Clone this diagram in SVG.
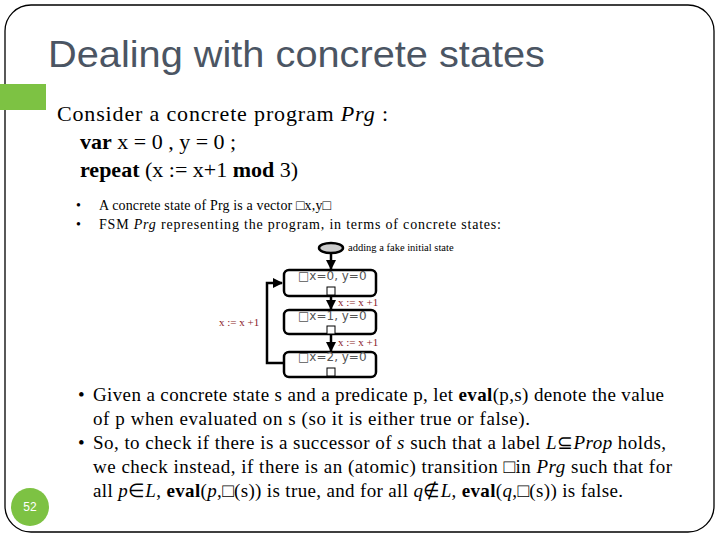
<svg xmlns="http://www.w3.org/2000/svg" width="720" height="540" viewBox="0 0 720 540">
<defs>
<style>
.title{font-family:"Liberation Sans",Arial,sans-serif;font-size:36px;fill:#4b5563}
.serif{font-family:"Liberation Serif","Times New Roman",serif;fill:#000}
.big{font-size:22px}
.mid{font-size:19px}
.small{font-size:14px}
.tiny{font-size:10.5px}
.node rect.box{fill:#fff;stroke:#000;stroke-width:2.5}
.nlabel{font-family:"DejaVu Sans",sans-serif;font-size:12px;fill:#555}
.edge{fill:none;stroke:#000;stroke-width:2.5}
.elabel{font-family:"Liberation Serif",serif;font-size:11px;fill:#8b1a2a}
</style>
<marker id="arr" viewBox="0 0 10 10" refX="9" refY="5" markerWidth="4" markerHeight="4" orient="auto">
<path d="M0,0 L10,5 L0,10 z" fill="#000"/>
</marker>
</defs>
<rect width="720" height="540" fill="#fff"/>
<rect x="5" y="5" width="709" height="527" rx="26" ry="26" fill="none" stroke="#000" stroke-width="1.3"/>
<rect x="0" y="84" width="46" height="26" fill="#7dc243"/>
<text class="title" x="48" y="67" textLength="497" lengthAdjust="spacingAndGlyphs">Dealing with concrete states</text>

<text class="serif big" x="57" y="121" textLength="331" lengthAdjust="spacing">Consider a concrete program <tspan font-style="italic">Prg</tspan> :</text>
<text class="serif big" x="80" y="149"><tspan font-weight="bold">var</tspan> x = 0 , y = 0 ;</text>
<text class="serif big" x="80" y="177"><tspan font-weight="bold">repeat</tspan> (x := x+1 <tspan font-weight="bold">mod</tspan> 3)</text>

<text class="serif small" x="76" y="210">•</text>
<text class="serif small" x="99" y="210" textLength="232" lengthAdjust="spacing">A concrete state of Prg is a vector □x,y□</text>
<text class="serif small" x="76" y="229">•</text>
<text class="serif small" x="99" y="229" textLength="402" lengthAdjust="spacing">FSM <tspan font-style="italic">Prg</tspan> representing the program, in terms of concrete states:</text>

<g id="init">
<ellipse cx="331" cy="248" rx="12" ry="5" fill="#ccc" stroke="#000" stroke-width="2.5"/>
<text class="serif tiny" x="348" y="251">adding a fake initial state</text>
</g>

<g id="connectors">
<line class="edge" x1="331" y1="253" x2="331" y2="269" marker-end="url(#arr)"/>
<line class="edge" x1="331" y1="296" x2="331" y2="309" marker-end="url(#arr)"/>
<line class="edge" x1="331" y1="334" x2="331" y2="351" marker-end="url(#arr)"/>
<polyline class="edge" points="283,363 267,363 267,283 282,283" marker-end="url(#arr)"/>
<text class="elabel" x="338" y="306">x := x +1</text>
<text class="elabel" x="338" y="346">x := x +1</text>
<text class="elabel" x="219" y="326">x := x +1</text>
</g>

<g id="s0" class="node">
<rect class="box" x="284" y="270" width="92" height="26" rx="5"/>
<text class="nlabel" x="298" y="280">□x=0, y=0</text>
<rect x="327" y="287" width="8" height="8" fill="#fff" stroke="#000" stroke-width="1"/>
</g>
<g id="s1" class="node">
<rect class="box" x="284" y="310" width="92" height="24" rx="5"/>
<text class="nlabel" x="298" y="320">□x=1, y=0</text>
<rect x="327" y="326" width="8" height="8" fill="#fff" stroke="#000" stroke-width="1"/>
</g>
<g id="s2" class="node">
<rect class="box" x="284" y="352" width="92" height="25" rx="5"/>
<text class="nlabel" x="298" y="361">□x=2, y=0</text>
<rect x="327" y="368" width="8" height="8" fill="#fff" stroke="#000" stroke-width="1"/>
</g>

<text class="serif mid" x="78" y="401">•</text>
<text class="serif mid" x="93" y="401" textLength="571" lengthAdjust="spacing">Given a concrete state s and a predicate p, let <tspan font-weight="bold">eval</tspan>(p,s) denote the value</text>
<text class="serif mid" x="93" y="425" textLength="437" lengthAdjust="spacing">of p when evaluated on s (so it is either true or false).</text>
<text class="serif mid" x="78" y="449">•</text>
<text class="serif mid" x="93" y="449" textLength="573" lengthAdjust="spacing">So, to check if there is a successor of <tspan font-style="italic">s</tspan> such that a label <tspan font-style="italic">L</tspan>⊆<tspan font-style="italic">Prop</tspan> holds,</text>
<text class="serif mid" x="93" y="473" textLength="579" lengthAdjust="spacing">we check instead, if there is an (atomic) transition □in <tspan font-style="italic">Prg</tspan> such that for</text>
<text class="serif mid" x="93" y="497" textLength="530" lengthAdjust="spacing">all <tspan font-style="italic">p</tspan>∈<tspan font-style="italic">L</tspan>, <tspan font-weight="bold">eval</tspan>(<tspan font-style="italic">p</tspan>,□(s)) is true, and for all <tspan font-style="italic">q</tspan>∉<tspan font-style="italic">L</tspan>, <tspan font-weight="bold">eval</tspan>(<tspan font-style="italic">q</tspan>,□(s)) is false.</text>

<circle cx="30" cy="507" r="19" fill="#7dc243"/>
<text x="30" y="511" text-anchor="middle" font-family="Liberation Sans,Arial,sans-serif" font-size="12" fill="#fff">52</text>
</svg>
